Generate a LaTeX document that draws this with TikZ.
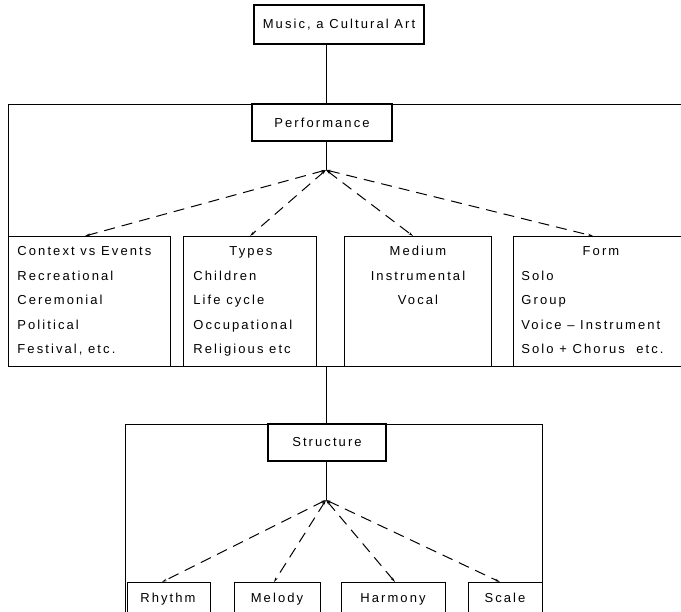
\documentclass[tikz,border=0pt]{standalone}
\usepackage{fontspec}
\setmainfont[LetterSpace=16]{Liberation Sans}
\usetikzlibrary{arrows.meta}
\begin{document}
\begin{tikzpicture}[x=1pt,y=-1pt,
  line width=0.9pt,
  frame/.style={draw, line width=1.1pt, inner sep=0pt},
  box/.style={draw, line width=1.1pt, inner sep=0pt, font=\fontsize{13}{15}\selectfont},
  txt/.style={inner sep=0pt, font=\fontsize{13}{15}\selectfont},
  dlink/.style={dashed, dash pattern=on 11pt off 7pt, line width=1pt,
    {Stealth[length=5pt,width=2.5pt]}-{Stealth[length=5pt,width=2.5pt]}}
]
\useasboundingbox (0,0) rectangle (681,612);
\clip (0,0) rectangle (681,612);

% title
\node[box, minimum width=170pt, minimum height=39pt] (title) at (339,24.5) {Music, a Cultural Art};

% performance frame
\node[frame, anchor=north west, minimum width=690pt, minimum height=262pt] (pframe) at (8,104) {};
\node[box, minimum width=140pt, minimum height=37pt] (perf) at (322,122.5) {Performance};
\coordinate (pj) at (326,170);

\draw (title.south -| pj) -- (pframe.north -| pj);
\draw (perf.south -| pj) -- (pj);

% four boxes
\node[frame, anchor=north west, minimum width=162pt, minimum height=130pt] (b1) at (8,236) {};
\node[frame, anchor=north west, minimum width=133pt, minimum height=130pt] (b2) at (183,236) {};
\node[frame, anchor=north west, minimum width=147pt, minimum height=130pt] (b3) at (344,236) {};
\node[frame, anchor=north west, minimum width=180pt, minimum height=130pt] (b4) at (513,236) {};

\coordinate (t1) at (85,236);
\coordinate (t2) at (250,236);
\coordinate (t3) at (413,236);
\coordinate (t4) at (593,236);
\draw[dlink] (pj) -- (t1);
\draw[dlink] (pj) -- (t2);
\draw[dlink] (pj) -- (t3);
\draw[dlink] (pj) -- (t4);

% box 1 text
\node[txt, anchor=base west] (b1a) at (17,256) {Context vs Events};
\node[txt, anchor=base west] (b1b) at (17,281) {Recreational};
\node[txt, anchor=base west] (b1c) at (17,305) {Ceremonial};
\node[txt, anchor=base west] (b1d) at (17,330) {Political};
\node[txt, anchor=base west] (b1e) at (17,354) {Festival, etc.};
% box 2 text
\node[txt, anchor=base] (b2a) at (251,256) {Types};
\node[txt, anchor=base west] (b2b) at (193,281) {Children};
\node[txt, anchor=base west] (b2c) at (193,305) {Life cycle};
\node[txt, anchor=base west] (b2d) at (193,330) {Occupational};
\node[txt, anchor=base west] (b2e) at (193,354) {Religious etc};
% box 3 text
\node[txt, anchor=base] (b3a) at (418,256) {Medium};
\node[txt, anchor=base] (b3b) at (418,281) {Instrumental};
\node[txt, anchor=base] (b3c) at (418,305) {Vocal};
% box 4 text
\node[txt, anchor=base] (b4a) at (601,256) {Form};
\node[txt, anchor=base west] (b4b) at (521,281) {Solo};
\node[txt, anchor=base west] (b4c) at (521,305) {Group};
\node[txt, anchor=base west] (b4d) at (521,330) {Voice -- Instrument};
\node[txt, anchor=base west] (b4e) at (521,354) {Solo + Chorus\ \ etc.};

% structure frame
\node[frame, anchor=north west, minimum width=417pt, minimum height=190pt] (sframe) at (125,424) {};
\node[box, minimum width=118pt, minimum height=37pt] (struct) at (327,442.5) {Structure};
\coordinate (sj) at (326,500);
\draw (pframe.south -| sj) -- (sframe.north -| sj);
\draw (struct.south -| sj) -- (sj);

% bottom boxes
\node[box, anchor=north west, minimum width=83pt, minimum height=32pt] (rhy) at (127,582) {};
\node[txt, anchor=base] (rhyt) at (168,602) {Rhythm};
\node[box, anchor=north west, minimum width=86pt, minimum height=32pt] (mel) at (234,582) {};
\node[txt, anchor=base] (melt) at (277,602) {Melody};
\node[box, anchor=north west, minimum width=104pt, minimum height=32pt] (har) at (341,582) {};
\node[txt, anchor=base] (hart) at (393,602) {Harmony};
\node[box, anchor=north west, minimum width=74pt, minimum height=32pt] (sca) at (468,582) {};
\node[txt, anchor=base] (scat) at (505,602) {Scale};

\coordinate (r1) at (162,582);
\coordinate (r2) at (274,582);
\coordinate (r3) at (395,582);
\coordinate (r4) at (500,582);
\draw[dlink] (sj) -- (r1);
\draw[dlink] (sj) -- (r2);
\draw[dlink] (sj) -- (r3);
\draw[dlink] (sj) -- (r4);
\end{tikzpicture}
\end{document}
